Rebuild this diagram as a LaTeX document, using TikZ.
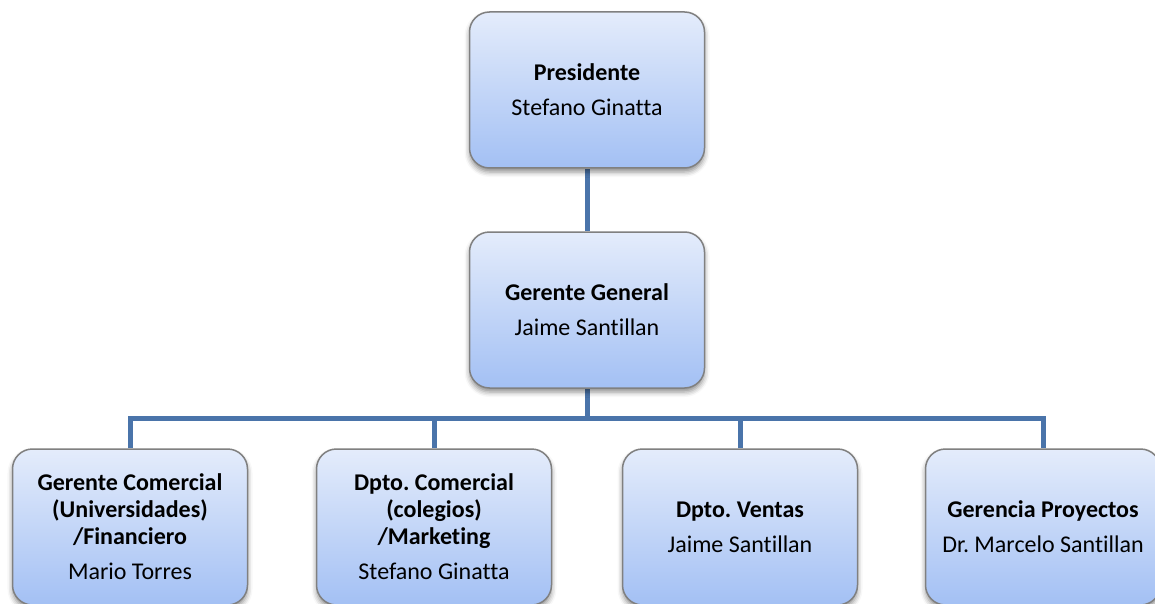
\documentclass[tikz,border=0pt]{standalone}
\usepackage{fontspec}
\setmainfont[Ligatures={NoCommon}]{Carlito}
\frenchspacing
\usetikzlibrary{shadows.blur,backgrounds}
\definecolor{boxtop}{HTML}{E4ECFB}
\definecolor{boxbot}{HTML}{A3C0F4}
\definecolor{boxline}{HTML}{808080}
\definecolor{conn}{HTML}{4A74AA}
\tikzset{
  orgbox/.style={rectangle, rounded corners=20pt, minimum width=235pt, minimum height=156pt,
    inner sep=2pt, top color=boxtop, bottom color=boxbot, draw=boxline, line width=1.5pt,
    align=center, font=\fontsize{24}{27}\selectfont\frenchspacing, text=black,
    blur shadow={shadow xshift=0pt, shadow yshift=-4pt, shadow blur radius=5pt, shadow opacity=45}},
  link/.style={draw=conn, line width=5pt}
}
\begin{document}
\begin{tikzpicture}[x=1pt,y=-1pt]
\useasboundingbox (0,0) rectangle (1155,604);
\node[orgbox] (pres) at (587,90) {\textbf{Presidente}\\[8pt]Stefano Ginatta};
\node[orgbox] (gg) at (587,310) {\textbf{Gerente General}\\[8pt]Jaime Santillan};
\node[orgbox] (b1) at (130,527) {\textbf{Gerente Comercial}\\\textbf{(Universidades)}\\\textbf{/Financiero}\\[8pt]Mario Torres};
\node[orgbox] (b2) at (434,527) {\textbf{Dpto. Comercial}\\\textbf{(colegios)}\\\textbf{/Marketing}\\[8pt]Stefano Ginatta};
\node[orgbox] (b3) at (740,527) {\textbf{Dpto. Ventas}\\[8pt]Jaime Santillan};
\node[orgbox] (b4) at (1043,527) {\textbf{Gerencia Proyectos}\\[8pt]Dr. Marcelo Santillan};
\coordinate (bus) at (587,418);
\begin{pgfonlayer}{background}
\draw[link] (pres.south) -- (gg.north);
\draw[link] (gg.south) -- (bus);
\draw[link] (b1.north) |- (bus) -| (b4.north);
\draw[link] (b2.north) -- (b2.north |- bus);
\draw[link] (b3.north) -- (b3.north |- bus);
\end{pgfonlayer}
\end{tikzpicture}
\end{document}
